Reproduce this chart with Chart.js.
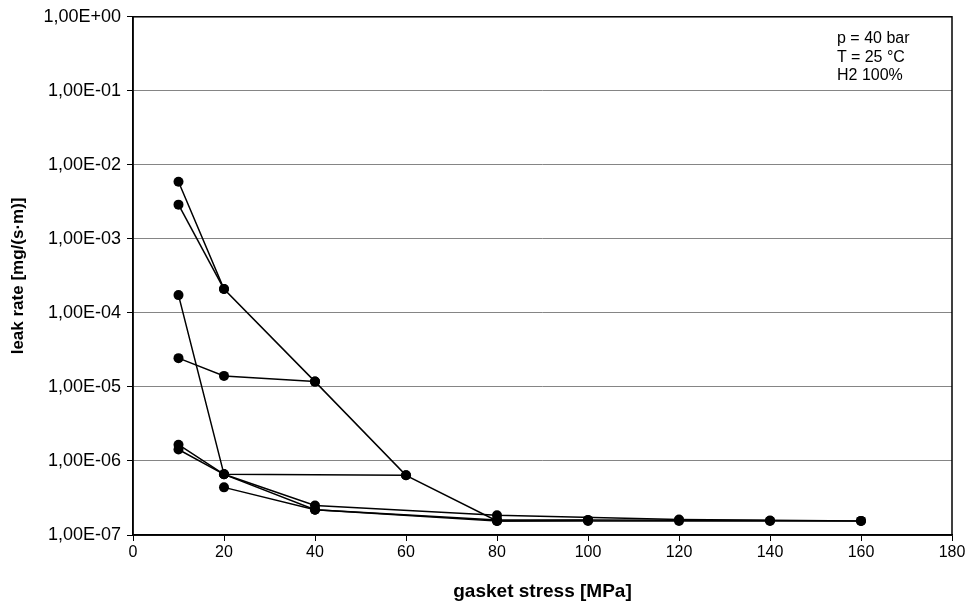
<!DOCTYPE html>
<html>
<head>
<meta charset="utf-8">
<script src="https://cdn.jsdelivr.net/npm/chart.js@4/dist/chart.umd.min.js"></script>
<style>
    html, body { margin: 0; padding: 0; background: #fff; }
    #wrap { position: relative; width: 968px; height: 605px; }
    #note {
        position: absolute; left: 837px; top: 29px;
        font: 16px "Liberation Sans", Arial, sans-serif;
        line-height: 18.5px; color: #000;
    }
</style>
</head>
<body>
<div id="wrap">
    <canvas id="leakChart" width="968" height="605"></canvas>
    <div id="note">p = 40 bar<br>T = 25 °C<br>H2 100%</div>
</div>
<script>
/* données : contrainte joint [MPa] -> taux de fuite [mg/(s·m)] */
const stressA = [10, 20, 40, 60, 80, 100, 120, 140, 160];
const leakA   = [5.9e-3, 2.1e-4, 1.18e-5, 6.4e-7, 1.55e-7, 1.55e-7, 1.55e-7, 1.55e-7, 1.55e-7];

const stressB = [10, 20];
const leakB   = [2.9e-3, 2.1e-4];

const stressC = [10, 20, 60];
const leakC   = [1.74e-4, 6.6e-7, 6.4e-7];

const stressD = [10, 20, 40];
const leakD   = [2.45e-5, 1.41e-5, 1.18e-5];

const stressE = [10, 20, 40, 80, 120, 160];
const leakE   = [1.66e-6, 6.6e-7, 2.5e-7, 1.85e-7, 1.62e-7, 1.55e-7];

const stressF = [10, 20, 40, 80, 100, 140];
const leakF   = [1.43e-6, 6.6e-7, 2.2e-7, 1.6e-7, 1.6e-7, 1.57e-7];

const stressG = [20, 40, 80, 100];
const leakG   = [4.4e-7, 2.2e-7, 1.55e-7, 1.58e-7];

const yTicks = [1e-7, 1e-6, 1e-5, 1e-4, 1e-3, 1e-2, 1e-1, 1e0];

const FONT = '"Liberation Sans", Arial, sans-serif';

function toPoints(xs, ys) {
    return xs.map((x, i) => ({ x: x, y: ys[i] }));
}

function expLabel(v) {
    // format Excel : 1,00E-07
    const e = Math.round(Math.log10(v));
    const sign = e < 0 ? '-' : '+';
    const abs = String(Math.abs(e)).padStart(2, '0');
    return '1,00E' + sign + abs;
}

const series = [
    [stressA, leakA], [stressB, leakB], [stressC, leakC], [stressD, leakD],
    [stressE, leakE], [stressF, leakF], [stressG, leakG]
];

const datasets = series.map(([xs, ys]) => ({
    data: toPoints(xs, ys),
    borderColor: '#000',
    backgroundColor: '#000',
    borderWidth: 1.5,
    pointRadius: 5,
    pointBorderWidth: 0,
    tension: 0
}));

// cadre noir autour de la zone de tracé
const frame = {
    id: 'frame',
    afterDraw(chart) {
        const a = chart.chartArea;
        const ctx = chart.ctx;
        ctx.save();
        ctx.strokeStyle = '#000';
        ctx.lineWidth = 1.5;
        ctx.strokeRect(a.left, a.top, a.right - a.left, a.bottom - a.top);
        ctx.restore();
    }
};

new Chart(document.getElementById('leakChart'), {
    type: 'line',
    data: { datasets: datasets },
    plugins: [frame],
    options: {
        responsive: false,
        animation: false,
        layout: { padding: { left: 0, top: 14, right: 16, bottom: 0 } },
        plugins: { legend: { display: false }, tooltip: { enabled: false } },
        scales: {
            x: {
                type: 'linear',
                min: 0, max: 180,
                ticks: { stepSize: 20, color: '#000', font: { family: FONT, size: 16 }, padding: 2 },
                grid: { color: 'rgba(0,0,0,0)', tickColor: '#000', tickLength: 6 },
                border: { color: '#000', width: 1.5 },
                title: {
                    display: true, text: 'gasket stress [MPa]', color: '#000',
                    font: { family: FONT, size: 19, weight: 'bold' },
                    padding: { top: 0, bottom: 2 }
                },
                afterFit(axis) { axis.height = 70; }
            },
            y: {
                type: 'logarithmic',
                min: 1e-7, max: 1,
                afterBuildTicks(axis) { axis.ticks = yTicks.map(v => ({ value: v })); },
                ticks: {
                    color: '#000', font: { family: FONT, size: 18 }, padding: 6,
                    callback: (v) => expLabel(v)
                },
                grid: { color: '#858585', lineWidth: 1, tickColor: '#000', tickLength: 6 },
                border: { color: '#000', width: 1.5 },
                title: {
                    display: true, text: 'leak rate [mg/(s·m)]', color: '#000',
                    font: { family: FONT, size: 17, weight: 'bold' },
                    padding: { top: 8, bottom: 0 }
                },
                afterFit(axis) { axis.width = 133; }
            }
        }
    }
});
</script>
</body>
</html>
